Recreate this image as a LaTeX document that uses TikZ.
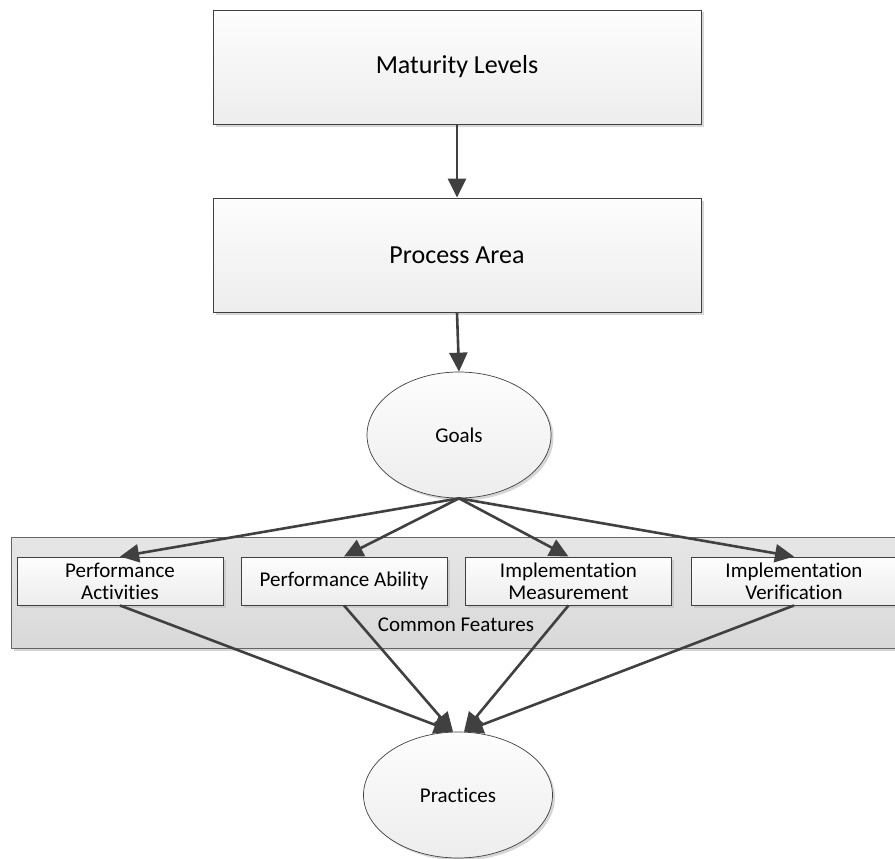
\documentclass[tikz,border=0pt]{standalone}
\usepackage{fontspec}
\setmainfont[Ligatures={NoCommon}]{Carlito}
\usetikzlibrary{arrows.meta,shapes.geometric,shadows}

\definecolor{edge}{HTML}{404040}
\definecolor{boxtop}{HTML}{FDFDFD}
\definecolor{boxbot}{HTML}{EDEDED}
\definecolor{grptop}{HTML}{E6E6E6}
\definecolor{grpbot}{HTML}{D9D9D9}
\definecolor{shade}{HTML}{C4C4C4}

\tikzset{
  shd/.style={drop shadow={shadow xshift=2.5pt,shadow yshift=-2.5pt,fill=shade,opacity=0.7}},
  bigbox/.style={draw=edge,line width=0.9pt,top color=boxtop,bottom color=boxbot,
    minimum width=488pt,minimum height=114pt,inner sep=0pt,shd,font=\fontsize{26}{31}\selectfont},
  featbox/.style={draw=edge,line width=0.9pt,top color=boxtop,bottom color=boxbot,
    minimum width=206pt,minimum height=48pt,inner sep=0pt,align=center,shd,
    font=\fontsize{21}{24}\selectfont},
  oval/.style={ellipse,draw=edge,line width=0.7pt,top color=boxtop,bottom color=boxbot,
    inner sep=0pt,shd,font=\fontsize{21}{24}\selectfont},
  group/.style={draw=edge!80,line width=0.9pt,top color=grptop,bottom color=grpbot,
    minimum width=886pt,minimum height=111pt,inner sep=0pt,shd},
  arr/.style={draw=edge,line width=2.6pt,-{Triangle[length=19pt,width=18pt]}}
}

\begin{document}
\begin{tikzpicture}[x=1pt,y=-1pt]
  \useasboundingbox (0,0) rectangle (895,859);

  % top-level boxes
  \node[bigbox] (ml) at (457,67) {Maturity Levels};
  \node[bigbox] (pa) at (457,255) {Process Area};

  % goals
  \node[oval,minimum width=184pt,minimum height=126pt] (goals) at (459,435) {Goals};

  % group of common features
  \node[group] (cf) at (454,592.5) {};
  \node[font=\fontsize{21}{24}\selectfont] (cflabel) at (456,625) {Common Features};

  \node[featbox] (f1) at (120,581) {Performance\\[-2pt]Activities};
  \node[featbox] (f2) at (344,581) {Performance Ability};
  \node[featbox] (f3) at (568.5,581) {Implementation\\[-2pt]Measurement};
  \node[featbox] (f4) at (794,581) {Implementation\\[-2pt]Verification};

  % practices
  \node[oval,minimum width=189pt,minimum height=126pt] (pr) at (458,795) {Practices};

  \coordinate (prL) at ([xshift=-5pt]pr.north);
  \coordinate (prR) at ([xshift=6pt]pr.north);
  \coordinate (gb) at (goals.south);

  % connectors
  \draw[arr] (ml.south) -- (pa.north);
  \draw[arr] (pa.south) -- (goals.north);
  \foreach \f in {f1,f2,f3,f4}{
    \draw[arr] (gb) -- (\f.north);
  }
  \draw[arr] (f1.south) -- (prL);
  \draw[arr] (f2.south) -- (prL);
  \draw[arr] (f3.south) -- (prR);
  \draw[arr] (f4.south) -- (prR);
\end{tikzpicture}
\end{document}
